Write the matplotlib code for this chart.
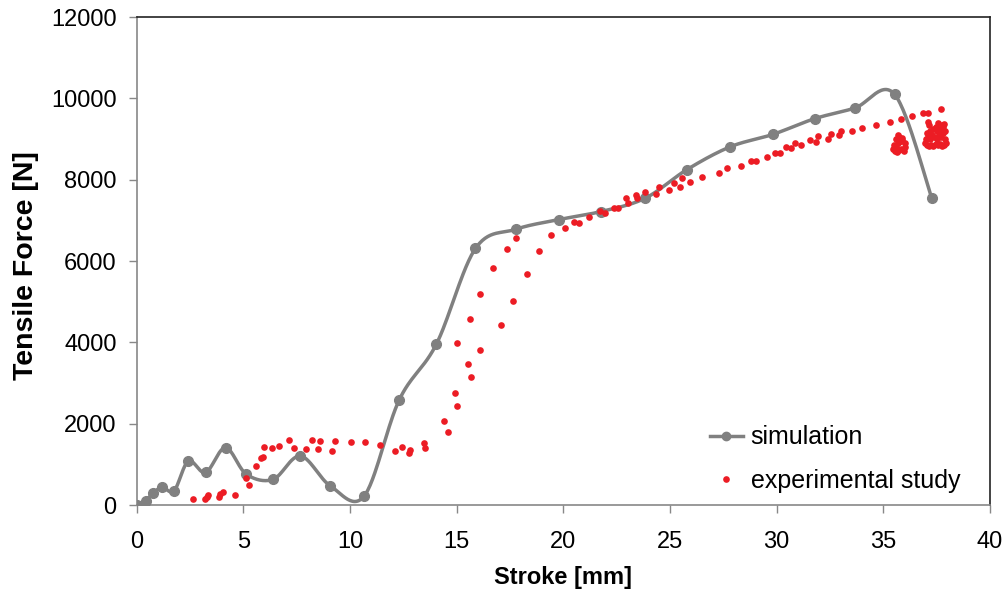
import numpy as np
import matplotlib.pyplot as plt
from matplotlib.lines import Line2D

plt.rcParams['font.family'] = ['Liberation Sans', 'DejaVu Sans']

# simulation (gray smooth line with markers)
sim_x = [0.0, 0.42, 0.77, 1.2, 1.75, 2.42, 3.23, 4.16, 5.14, 6.39, 7.67, 9.08,
         10.66, 12.3, 14.05, 15.88, 17.77, 19.8, 21.75, 23.82, 25.8, 27.83,
         29.83, 31.78, 33.66, 35.53, 37.28]
sim_y = [0, 105, 300, 435, 350, 1080, 800, 1410, 755, 630, 1205, 467,
         220, 2580, 3960, 6310, 6780, 7020, 7215, 7540, 8250, 8810,
         9115, 9500, 9760, 10100, 7540]

# experimental study (red dots)
exp_x = [2.64, 3.19, 3.30, 3.36, 3.86, 3.92, 4.02, 4.61, 5.14, 5.27, 5.61, 5.84,
         5.92, 5.97, 6.36, 6.69, 7.14, 7.36, 7.95, 8.22, 8.50, 8.61, 9.17, 9.28,
         10.02, 10.70, 11.42, 12.11, 12.45, 12.77, 12.83, 13.45, 13.52,
         14.39, 14.58, 14.94, 14.99, 15.03, 15.52, 15.66, 15.60, 16.11, 16.10,
         16.72, 17.06, 17.36, 17.78, 17.66, 18.30, 18.85, 19.44, 20.07, 20.50,
         20.72, 21.2, 21.74, 21.97, 22.38, 22.58, 22.92, 23.03, 23.39, 23.45,
         23.82, 24.36, 24.47, 24.94, 25.19, 25.46, 25.56, 25.92, 26.5, 27.28,
         27.67, 28.35, 28.82, 29.02, 29.55, 29.91, 30.18, 30.43, 30.69, 30.85,
         31.16, 31.55, 31.84, 31.94, 32.41, 32.57, 32.91, 33.04, 33.54, 34.0,
         34.68, 35.3, 35.85, 36.35, 36.86, 37.1, 37.73,
         # cluster near 36 mm
         35.45, 35.55, 35.65, 35.75, 35.85, 35.95, 36.02, 35.5, 35.6, 35.7,
         35.8, 35.9, 36.0, 35.6, 35.75, 35.9, 35.7, 35.85,
         # cluster near 37.5 mm
         36.95, 37.05, 37.15, 37.25, 37.35, 37.45, 37.55, 37.65, 37.75, 37.85,
         37.95, 37.0, 37.1, 37.2, 37.3, 37.4, 37.5, 37.6, 37.7, 37.8, 37.9,
         37.05, 37.2, 37.35, 37.5, 37.65, 37.8, 37.9, 37.15, 37.45, 37.75,
         37.1, 37.55, 37.85]
exp_y = [155, 148, 205, 246, 205, 263, 312, 254, 672, 492, 959, 1148,
         1180, 1426, 1394, 1451, 1590, 1402, 1377, 1590, 1377, 1582, 1336, 1582,
         1557, 1557, 1467, 1336, 1418, 1287, 1344, 1533, 1394,
         2073, 1803, 2746, 2434, 3975, 3467, 3140, 4566, 5180, 3803,
         5820, 4426, 6304, 6558, 5023, 5673, 6245, 6639, 6819, 6967,
         6926, 7081, 7229, 7188, 7311, 7311, 7540, 7434, 7622, 7540,
         7704, 7639, 7827, 7745, 7926, 7827, 8032, 7950, 8073, 8155,
         8278, 8335, 8458, 8458, 8565, 8663, 8663, 8811, 8770, 8893,
         8852, 8975, 8934, 9073, 8992, 9122, 9098, 9204, 9196, 9262,
         9344, 9426, 9483, 9573, 9631, 9631, 9729,
         8750, 8700, 8680, 8720, 8760, 8700, 8800, 8850, 8820, 8900,
         8950, 8980, 8900, 9000, 9050, 9020, 9100, 8950,
         8900, 8850, 8820, 8860, 8830, 8880, 8850, 8870, 8830, 8860,
         8900, 9000, 9050, 9000, 9100, 9050, 9000, 9100, 9050, 9150, 9000,
         9150, 9200, 9250, 9200, 9250, 9300, 9200, 9350, 9300, 9350,
         9420, 9400, 9380]


def smooth(xs, ys, n=30):
    # Catmull-Rom style smoothing like a spreadsheet "smoothed line"
    p = np.column_stack([xs, ys]).astype(float)
    p = np.vstack([p[0], p, p[-1]])
    out = []
    for i in range(1, len(p) - 2):
        p0, p1, p2, p3 = p[i - 1], p[i], p[i + 1], p[i + 2]
        c1 = p1 + (p2 - p0) / 6
        c2 = p2 - (p3 - p1) / 6
        t = np.linspace(0, 1, n)[:, None]
        seg = ((1 - t) ** 3 * p1 + 3 * (1 - t) ** 2 * t * c1
               + 3 * (1 - t) * t ** 2 * c2 + t ** 3 * p2)
        out.append(seg)
    out = np.vstack(out)
    return out[:, 0], out[:, 1]


gray = '#808080'
red = '#ec1c24'

fig = plt.figure(figsize=(10.06, 5.89), dpi=100)
ax = fig.add_axes([0.136, 0.1426, 0.848, 0.8285])

sx, sy = smooth(sim_x, sim_y)
ax.plot(sx, sy, color=gray, lw=2.5, zorder=2)
ax.plot(sim_x, sim_y, 'o', color=gray, ms=7, zorder=3)
ax.plot(exp_x, exp_y, 'o', color=red, ms=4.8, mec='none', zorder=4)

ax.set_xlim(0, 40)
ax.set_ylim(0, 12000)
ax.set_xticks(range(0, 41, 5))
ax.set_yticks(range(0, 12001, 2000))
ax.tick_params(labelsize=17, length=6, width=1, color='#888888')
ax.tick_params(axis='y', pad=8.5)
ax.tick_params(axis='x', pad=13)

for s in ['left', 'bottom']:
    ax.spines[s].set_color('#888888')
for s in ['top', 'right']:
    ax.spines[s].set_color('#222222')
for s in ax.spines.values():
    s.set_linewidth(1.2)

ax.set_xlabel('Stroke [mm]', fontsize=17, fontweight='bold')
ax.set_ylabel('Tensile Force [N]', fontsize=20.5, fontweight='bold')
ax.xaxis.set_label_coords(0.5, -0.124)
ax.yaxis.set_label_coords(-0.115, 0.49)

handles = [Line2D([], [], color=gray, lw=2.5, marker='o', ms=6),
           Line2D([], [], color=red, ls='none', marker='o', ms=4.8, mec='none')]
fig.legend(handles, ['simulation', 'experimental study'], loc='upper left',
           bbox_to_anchor=(0.7058, 0.278), frameon=False, fontsize=18,
           borderpad=0, borderaxespad=0, handlelength=1.3,
           handletextpad=0.32, labelspacing=0.78)

plt.savefig('out.png', dpi=100)
